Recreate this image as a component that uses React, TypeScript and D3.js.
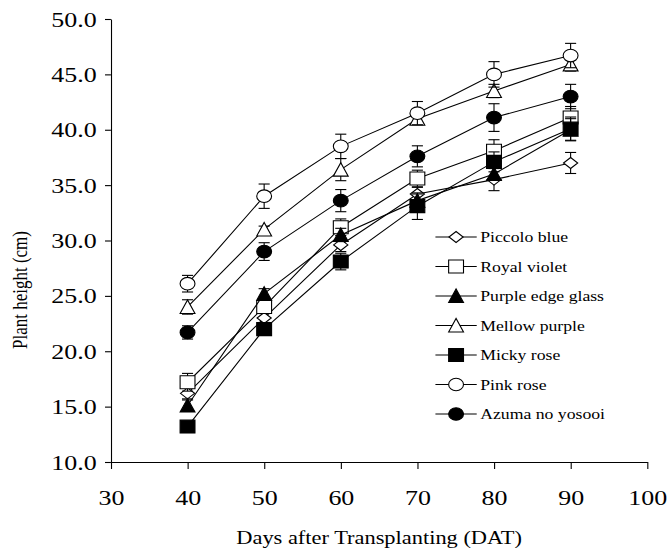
import React, { useEffect, useRef } from 'react';
import * as d3 from 'd3';

// days after transplanting
const days = [40, 50, 60, 70, 80, 90];

// plant height (cm)
const piccoloBlue = [16.2, 23.0, 29.6, 34.2, 35.5, 37.0];
const royalViolet = [17.2, 24.0, 31.2, 35.6, 38.1, 41.1];
const purpleEdgeGlass = [15.1, 25.2, 30.5, 33.6, 36.0, 40.0];
const mellowPurple = [24.0, 31.0, 36.4, 41.0, 43.5, 45.9];
const mickyRose = [13.2, 22.0, 28.1, 33.1, 37.1, 40.1];
const pinkRose = [26.1, 34.0, 38.5, 41.5, 45.0, 46.7];
const azumaNoYosooi = [21.7, 29.0, 33.6, 37.6, 41.1, 43.0];

// error bar half widths
const piccoloBlueErr = [0.5, 0.4, 0.6, 0.6, 1.0, 0.95];
const royalVioletErr = [0.8, 0.5, 0.75, 0.75, 1.0, 1.0];
const purpleEdgeGlassErr = [0.5, 0.45, 0.6, 0.6, 0.5, 1.0];
const mellowPurpleErr = [0.65, 0.3, 1.0, 0.5, 0.6, 0.6];
const mickyRoseErr = [0.3, 0.4, 0.75, 1.2, 0.9, 1.05];
const pinkRoseErr = [0.75, 1.1, 1.1, 1.05, 1.15, 1.1];
const azumaNoYosooiErr = [0.6, 0.8, 1.0, 0.95, 1.25, 1.1];

const xTicks = [30, 40, 50, 60, 70, 80, 90, 100];
const yTicks = [10, 15, 20, 25, 30, 35, 40, 45, 50];

const series = [
  { name: 'Piccolo blue', shape: 'diamond', fill: '#fff', values: piccoloBlue, err: piccoloBlueErr },
  { name: 'Royal violet', shape: 'square', fill: '#fff', values: royalViolet, err: royalVioletErr },
  { name: 'Purple edge glass', shape: 'triangle', fill: '#000', values: purpleEdgeGlass, err: purpleEdgeGlassErr },
  { name: 'Mellow purple', shape: 'triangle', fill: '#fff', values: mellowPurple, err: mellowPurpleErr },
  { name: 'Micky rose', shape: 'square', fill: '#000', values: mickyRose, err: mickyRoseErr },
  { name: 'Pink rose', shape: 'circle', fill: '#fff', values: pinkRose, err: pinkRoseErr },
  { name: 'Azuma no yosooi', shape: 'circle', fill: '#000', values: azumaNoYosooi, err: azumaNoYosooiErr },
];

const FONT = "'Liberation Serif', 'Times New Roman', serif";
// the original figure is a little wider than tall in its glyphs
const sx = 1.18;

function markerPath(shape: string) {
  if (shape === 'diamond') return 'M-6,0L0,-5.5L6,0L0,5.5Z';
  if (shape === 'triangle') return 'M-6.3,6.5L0,-7L6.3,6.5Z';
  if (shape === 'square') return 'M-6.3,-6.5L6.3,-6.5L6.3,6.5L-6.3,6.5Z';
  return '';
}

function drawMarker(sel: any, shape: string, fill: string, cx: number, cy: number) {
  if (shape === 'circle') {
    sel.append('circle').attr('cx', cx).attr('cy', cy).attr('r', 6.3)
      .attr('fill', fill).attr('stroke', '#000').attr('stroke-width', 1.1)
      .attr('vector-effect', 'non-scaling-stroke');
  } else {
    sel.append('path').attr('d', markerPath(shape))
      .attr('transform', `translate(${cx},${cy})`)
      .attr('fill', fill).attr('stroke', '#000').attr('stroke-width', 1.1)
      .attr('vector-effect', 'non-scaling-stroke');
  }
}

export default function App() {
  const ref = useRef<SVGSVGElement>(null);

  useEffect(() => {
    const svg = d3.select(ref.current);
    svg.selectAll('*').remove();
    svg.append('rect').attr('width', 667).attr('height', 552).attr('fill', '#fff');
    const g = svg.append('g').attr('transform', `scale(${sx},1)`);

    const x = d3.scaleLinear().domain([30, 100]).range([94, 548.5]);
    const y = d3.scaleLinear().domain([10, 50]).range([462, 19]);

    // y axis
    const yAxis = g.append('g').attr('transform', `translate(${x(30)},0)`)
      .call(d3.axisLeft(y).tickValues(yTicks).tickSize(5).tickSizeOuter(0).tickPadding(7).tickFormat(d3.format('.1f')));
    // x axis
    const xAxis = g.append('g').attr('transform', `translate(0,${y(10)})`)
      .call(d3.axisBottom(x).tickValues(xTicks).tickSize(7).tickSizeOuter(0).tickPadding(20));

    [yAxis, xAxis].forEach(a => {
      a.selectAll('path, line').attr('stroke', '#000').attr('stroke-width', 1.1).attr('vector-effect', 'non-scaling-stroke');
      a.selectAll('text').attr('fill', '#000').style('font-family', FONT).style('font-size', '22px');
    });

    // axis titles
    g.append('text').attr('x', (x(30) + x(100)) / 2).attr('y', 544)
      .attr('text-anchor', 'middle').style('font-family', FONT).style('font-size', '19px')
      .text('Days after Transplanting (DAT)');
    g.append('text').attr('transform', `translate(23,290) rotate(-90)`)
      .attr('text-anchor', 'middle').style('font-family', FONT).style('font-size', '17px')
      .text('Plant height (cm)');

    const line = d3.line<number>().x((d, i) => x(days[i])).y(d => y(d));

    series.forEach(s => {
      const sg = g.append('g');
      sg.append('path').attr('d', line(s.values)).attr('fill', 'none')
        .attr('stroke', '#000').attr('stroke-width', 1.1).attr('vector-effect', 'non-scaling-stroke');
      s.values.forEach((v, i) => {
        const cx = x(days[i]);
        const lo = y(v - s.err[i]);
        const hi = y(v + s.err[i]);
        const eb = sg.append('g').attr('stroke', '#000').attr('stroke-width', 1.1);
        eb.append('line').attr('x1', cx).attr('x2', cx).attr('y1', lo).attr('y2', hi).attr('vector-effect', 'non-scaling-stroke');
        eb.append('line').attr('x1', cx - 4.7).attr('x2', cx + 4.7).attr('y1', lo).attr('y2', lo).attr('vector-effect', 'non-scaling-stroke');
        eb.append('line').attr('x1', cx - 4.7).attr('x2', cx + 4.7).attr('y1', hi).attr('y2', hi).attr('vector-effect', 'non-scaling-stroke');
      });
      s.values.forEach((v, i) => drawMarker(sg, s.shape, s.fill, x(days[i]), y(v)));
    });

    // legend
    const legend = g.append('g');
    series.forEach((s, i) => {
      const ly = 237 + i * 29.5;
      legend.append('line').attr('x1', 369).attr('x2', 404).attr('y1', ly).attr('y2', ly)
        .attr('stroke', '#000').attr('stroke-width', 1.1).attr('vector-effect', 'non-scaling-stroke');
      drawMarker(legend, s.shape, s.fill, 386.5, ly);
      legend.append('text').attr('x', 407).attr('y', ly).attr('dy', '0.35em')
        .style('font-family', FONT).style('font-size', '15px').text(s.name);
    });
  }, []);

  return (
    <svg ref={ref} width={667} height={552}
      style={{ position: 'absolute', left: 0, top: 0, display: 'block' }} />
  );
}
